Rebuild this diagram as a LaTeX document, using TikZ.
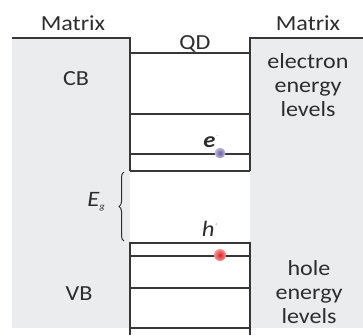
\documentclass[tikz,border=0pt]{standalone}
\usepackage{fontspec}
\setmainfont{Carlito}[FakeStretch=1.12]
\usetikzlibrary{decorations.pathreplacing}
\definecolor{matrixgray}{RGB}{235,236,238}
\definecolor{linegray}{RGB}{55,55,55}
\definecolor{txtgray}{RGB}{45,45,45}
\definecolor{elec}{RGB}{120,115,190}
\definecolor{hole}{RGB}{230,30,30}
\begin{document}
\begin{tikzpicture}[x=1pt,y=-1pt,
  lvl/.style={draw=linegray,line width=1.8pt},
  lbl/.style={font=\fontsize{21.5}{24}\selectfont, text=txtgray, inner sep=0pt, align=center},
  sym/.style={font=\fontsize{22}{24}\selectfont, text=txtgray, inner sep=0pt},
]
\useasboundingbox (0,0) rectangle (363,335);
% matrix blocks
\fill[matrixgray] (12,38) rectangle (130,328);
\fill[matrixgray] (250,38) rectangle (363,328);
% matrix outlines
\draw[lvl] (12,38) -- (130,38) -- (130,171);
\draw[lvl] (363,38) -- (250,38) -- (250,171);
% conduction band levels
\draw[lvl] (130,53) -- (250,53);
\draw[lvl] (130,114) -- (250,114);
\draw[lvl] (130,154) -- (250,154);
\draw[lvl] (130,171) -- (250,171);
% valence band levels
\draw[lvl] (130,335) -- (130,243) -- (250,243) -- (250,335);
\draw[lvl] (130,256) -- (250,256);
\draw[lvl] (130,288) -- (250,288);
\draw[lvl] (130,328) -- (250,328);
% brace
\draw[draw=txtgray, line width=1pt, decorate, decoration={brace, amplitude=5pt}]
  (124,241) -- (124,172);
% labels
\node[lbl, anchor=base] (m1) at (73,30) {Matrix};
\node[lbl, anchor=base] (m2) at (308,30) {Matrix};
\node[lbl, anchor=base] (qd) at (195,49) {QD};
\node[lbl, anchor=base] (cb) at (76,85) {CB};
\node[lbl, anchor=base] (vb) at (79,300) {VB};
\node[lbl] (el) at (308,85) {electron\\energy\\levels};
\node[lbl] (hl) at (309,292) {hole\\energy\\levels};
\node[sym, anchor=base] (eg) at (96,206) {\textit{E}\raisebox{-3pt}{\fontsize{9}{9}\selectfont\textit{g}}};
\node[sym, anchor=base] (e) at (211,147) {\textbf{\textit{e}}\raisebox{10pt}{\fontsize{6}{6}\selectfont\color{gray!60}–}};
\node[sym, anchor=base] (h) at (210,236) {\textit{h}\raisebox{10pt}{\fontsize{6}{6}\selectfont\color{gray!60}+}};
% particles
\shade[inner color=elec!85!black, outer color=elec!45!white] (220,153) circle (5.5);
\shade[inner color=hole, outer color=hole!45!white] (220,255) circle (6);
\end{tikzpicture}
\end{document}
